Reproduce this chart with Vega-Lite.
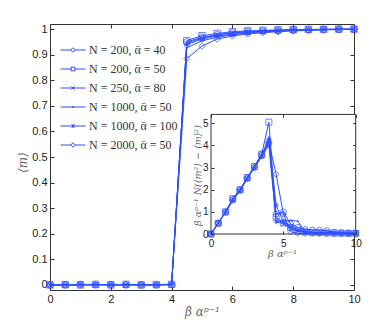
{
 "$schema": "https://vega.github.io/schema/vega-lite/v6.json",
 "width": 304, "height": 266,
 "autosize": {"type": "none"},
 "padding": {"left": 50, "top": 24, "right": 30, "bottom": 37},
 "background": "white",
 "config": {
  "view": {"stroke": "#333333", "strokeWidth": 1},
  "axis": {"labelFont": "Liberation Sans", "labelFontSize": 11, "labelColor": "#222222", "titleFont": "DejaVu Serif", "titleFontWeight": "normal", "titleFontStyle": "italic", "titleColor": "#666666", "domain": false, "tickColor": "#333333", "grid": false, "tickSize": -4, "labelPadding": 7, "labelFlush": false, "zindex": 0}
 },
 "data": {"values": [
  {"s":"N = 200, ᾱ = 40","b":0,"m":0,"c":0},{"s":"N = 200, ᾱ = 40","b":0.5,"m":0,"c":0.5},{"s":"N = 200, ᾱ = 40","b":1,"m":0.002,"c":0.98},{"s":"N = 200, ᾱ = 40","b":1.5,"m":0,"c":1.55},{"s":"N = 200, ᾱ = 40","b":2,"m":0.001,"c":1.98},{"s":"N = 200, ᾱ = 40","b":2.5,"m":0,"c":2.5},{"s":"N = 200, ᾱ = 40","b":3,"m":0,"c":3.0},{"s":"N = 200, ᾱ = 40","b":3.5,"m":0,"c":3.55},{"s":"N = 200, ᾱ = 40","b":4,"m":0.001,"c":4.1},{"s":"N = 200, ᾱ = 40","b":4.5,"m":0.95,"c":0.9},{"s":"N = 200, ᾱ = 40","b":5,"m":0.968,"c":1.0},{"s":"N = 200, ᾱ = 40","b":5.5,"m":0.978,"c":0.45},{"s":"N = 200, ᾱ = 40","b":6,"m":0.986,"c":0.3},{"s":"N = 200, ᾱ = 40","b":6.5,"m":0.99,"c":0.2},{"s":"N = 200, ᾱ = 40","b":7,"m":0.993,"c":0.18},{"s":"N = 200, ᾱ = 40","b":7.5,"m":0.995,"c":0.17},{"s":"N = 200, ᾱ = 40","b":8,"m":0.997,"c":0.15},{"s":"N = 200, ᾱ = 40","b":8.5,"m":0.998,"c":0.08},{"s":"N = 200, ᾱ = 40","b":9,"m":0.999,"c":0.06},{"s":"N = 200, ᾱ = 40","b":9.5,"m":0.999,"c":0.05},{"s":"N = 200, ᾱ = 40","b":10,"m":1,"c":0.04},
  {"s":"N = 200, ᾱ = 50","b":0,"m":0,"c":0},{"s":"N = 200, ᾱ = 50","b":0.5,"m":0.001,"c":0.48},{"s":"N = 200, ᾱ = 50","b":1,"m":0,"c":1.0},{"s":"N = 200, ᾱ = 50","b":1.5,"m":0.002,"c":1.6},{"s":"N = 200, ᾱ = 50","b":2,"m":0,"c":2.0},{"s":"N = 200, ᾱ = 50","b":2.5,"m":0.002,"c":2.55},{"s":"N = 200, ᾱ = 50","b":3,"m":0,"c":3.05},{"s":"N = 200, ᾱ = 50","b":3.5,"m":0.001,"c":3.6},{"s":"N = 200, ᾱ = 50","b":4,"m":0.002,"c":5.05},{"s":"N = 200, ᾱ = 50","b":4.5,"m":0.955,"c":0.75},{"s":"N = 200, ᾱ = 50","b":5,"m":0.974,"c":0.5},{"s":"N = 200, ᾱ = 50","b":5.5,"m":0.983,"c":0.3},{"s":"N = 200, ᾱ = 50","b":6,"m":0.99,"c":0.15},{"s":"N = 200, ᾱ = 50","b":6.5,"m":0.993,"c":0.1},{"s":"N = 200, ᾱ = 50","b":7,"m":0.995,"c":0.07},{"s":"N = 200, ᾱ = 50","b":7.5,"m":0.997,"c":0.06},{"s":"N = 200, ᾱ = 50","b":8,"m":0.998,"c":0.05},{"s":"N = 200, ᾱ = 50","b":8.5,"m":0.999,"c":0.04},{"s":"N = 200, ᾱ = 50","b":9,"m":0.999,"c":0.04},{"s":"N = 200, ᾱ = 50","b":9.5,"m":1,"c":0.03},{"s":"N = 200, ᾱ = 50","b":10,"m":1,"c":0.03},
  {"s":"N = 250, ᾱ = 80","b":0,"m":0,"c":0},{"s":"N = 250, ᾱ = 80","b":0.5,"m":0,"c":0.5},{"s":"N = 250, ᾱ = 80","b":1,"m":0.001,"c":0.97},{"s":"N = 250, ᾱ = 80","b":1.5,"m":0,"c":1.5},{"s":"N = 250, ᾱ = 80","b":2,"m":0.002,"c":1.95},{"s":"N = 250, ᾱ = 80","b":2.5,"m":0,"c":2.5},{"s":"N = 250, ᾱ = 80","b":3,"m":0.001,"c":3.0},{"s":"N = 250, ᾱ = 80","b":3.5,"m":0,"c":3.5},{"s":"N = 250, ᾱ = 80","b":4,"m":0.001,"c":4.0},{"s":"N = 250, ᾱ = 80","b":4.5,"m":0.945,"c":0.6},{"s":"N = 250, ᾱ = 80","b":5,"m":0.965,"c":0.45},{"s":"N = 250, ᾱ = 80","b":5.5,"m":0.976,"c":0.25},{"s":"N = 250, ᾱ = 80","b":6,"m":0.985,"c":0.12},{"s":"N = 250, ᾱ = 80","b":6.5,"m":0.99,"c":0.08},{"s":"N = 250, ᾱ = 80","b":7,"m":0.992,"c":0.06},{"s":"N = 250, ᾱ = 80","b":7.5,"m":0.995,"c":0.05},{"s":"N = 250, ᾱ = 80","b":8,"m":0.997,"c":0.05},{"s":"N = 250, ᾱ = 80","b":8.5,"m":0.998,"c":0.04},{"s":"N = 250, ᾱ = 80","b":9,"m":0.999,"c":0.04},{"s":"N = 250, ᾱ = 80","b":9.5,"m":0.999,"c":0.03},{"s":"N = 250, ᾱ = 80","b":10,"m":1,"c":0.03},
  {"s":"N = 1000, ᾱ = 50","b":0,"m":0,"c":0},{"s":"N = 1000, ᾱ = 50","b":0.5,"m":0.001,"c":0.5},{"s":"N = 1000, ᾱ = 50","b":1,"m":0,"c":1.0},{"s":"N = 1000, ᾱ = 50","b":1.5,"m":0.001,"c":1.55},{"s":"N = 1000, ᾱ = 50","b":2,"m":0,"c":1.97},{"s":"N = 1000, ᾱ = 50","b":2.5,"m":0.001,"c":2.52},{"s":"N = 1000, ᾱ = 50","b":3,"m":0,"c":3.02},{"s":"N = 1000, ᾱ = 50","b":3.5,"m":0.001,"c":3.52},{"s":"N = 1000, ᾱ = 50","b":4,"m":0.003,"c":4.37},{"s":"N = 1000, ᾱ = 50","b":4.5,"m":0.927,"c":0.5},{"s":"N = 1000, ᾱ = 50","b":5,"m":0.954,"c":0.6},{"s":"N = 1000, ᾱ = 50","b":5.5,"m":0.968,"c":0.62},{"s":"N = 1000, ᾱ = 50","b":6,"m":0.978,"c":0.58},{"s":"N = 1000, ᾱ = 50","b":6.5,"m":0.985,"c":0.1},{"s":"N = 1000, ᾱ = 50","b":7,"m":0.989,"c":0.07},{"s":"N = 1000, ᾱ = 50","b":7.5,"m":0.992,"c":0.05},{"s":"N = 1000, ᾱ = 50","b":8,"m":0.995,"c":0.05},{"s":"N = 1000, ᾱ = 50","b":8.5,"m":0.997,"c":0.04},{"s":"N = 1000, ᾱ = 50","b":9,"m":0.998,"c":0.04},{"s":"N = 1000, ᾱ = 50","b":9.5,"m":0.999,"c":0.03},{"s":"N = 1000, ᾱ = 50","b":10,"m":0.999,"c":0.03},
  {"s":"N = 1000, ᾱ = 100","b":0,"m":0,"c":0},{"s":"N = 1000, ᾱ = 100","b":0.5,"m":0,"c":0.5},{"s":"N = 1000, ᾱ = 100","b":1,"m":0.001,"c":0.98},{"s":"N = 1000, ᾱ = 100","b":1.5,"m":0.002,"c":1.52},{"s":"N = 1000, ᾱ = 100","b":2,"m":0,"c":1.95},{"s":"N = 1000, ᾱ = 100","b":2.5,"m":0,"c":2.5},{"s":"N = 1000, ᾱ = 100","b":3,"m":0.001,"c":3.0},{"s":"N = 1000, ᾱ = 100","b":3.5,"m":0,"c":3.5},{"s":"N = 1000, ᾱ = 100","b":4,"m":0.002,"c":4.26},{"s":"N = 1000, ᾱ = 100","b":4.5,"m":0.94,"c":1.3},{"s":"N = 1000, ᾱ = 100","b":5,"m":0.961,"c":0.55},{"s":"N = 1000, ᾱ = 100","b":5.5,"m":0.973,"c":0.35},{"s":"N = 1000, ᾱ = 100","b":6,"m":0.98,"c":0.2},{"s":"N = 1000, ᾱ = 100","b":6.5,"m":0.987,"c":0.1},{"s":"N = 1000, ᾱ = 100","b":7,"m":0.991,"c":0.07},{"s":"N = 1000, ᾱ = 100","b":7.5,"m":0.994,"c":0.05},{"s":"N = 1000, ᾱ = 100","b":8,"m":0.996,"c":0.04},{"s":"N = 1000, ᾱ = 100","b":8.5,"m":0.997,"c":0.04},{"s":"N = 1000, ᾱ = 100","b":9,"m":0.998,"c":0.03},{"s":"N = 1000, ᾱ = 100","b":9.5,"m":0.999,"c":0.03},{"s":"N = 1000, ᾱ = 100","b":10,"m":0.999,"c":0.03},
  {"s":"N = 2000, ᾱ = 50","b":0,"m":0,"c":0},{"s":"N = 2000, ᾱ = 50","b":0.5,"m":0,"c":0.5},{"s":"N = 2000, ᾱ = 50","b":1,"m":0,"c":1.0},{"s":"N = 2000, ᾱ = 50","b":1.5,"m":0.001,"c":1.58},{"s":"N = 2000, ᾱ = 50","b":2,"m":0,"c":2.0},{"s":"N = 2000, ᾱ = 50","b":2.5,"m":0.001,"c":2.55},{"s":"N = 2000, ᾱ = 50","b":3,"m":0,"c":3.05},{"s":"N = 2000, ᾱ = 50","b":3.5,"m":0,"c":3.62},{"s":"N = 2000, ᾱ = 50","b":4,"m":0.001,"c":4.15},{"s":"N = 2000, ᾱ = 50","b":4.5,"m":0.885,"c":2.7},{"s":"N = 2000, ᾱ = 50","b":5,"m":0.934,"c":0.9},{"s":"N = 2000, ᾱ = 50","b":5.5,"m":0.961,"c":0.1},{"s":"N = 2000, ᾱ = 50","b":6,"m":0.973,"c":0.03},{"s":"N = 2000, ᾱ = 50","b":6.5,"m":0.981,"c":0.02},{"s":"N = 2000, ᾱ = 50","b":7,"m":0.986,"c":0.02},{"s":"N = 2000, ᾱ = 50","b":7.5,"m":0.99,"c":0.02},{"s":"N = 2000, ᾱ = 50","b":8,"m":0.993,"c":0.02},{"s":"N = 2000, ᾱ = 50","b":8.5,"m":0.995,"c":0.01},{"s":"N = 2000, ᾱ = 50","b":9,"m":0.997,"c":0.01},{"s":"N = 2000, ᾱ = 50","b":9.5,"m":0.998,"c":0.01},{"s":"N = 2000, ᾱ = 50","b":10,"m":0.999,"c":0.01}
 ]},
 "layer": [
  {
   "layer": [
    {
     "mark": {"type": "line", "color": "#2f4fff", "strokeWidth": 1},
     "encoding": {
      "x": {"field": "b", "type": "quantitative", "scale": {"domain": [0, 10], "nice": false},
            "axis": {"orient": "bottom", "values": [0, 2, 4, 6, 8, 10], "title": "β αᵖ⁻¹", "titleFontSize": 12, "titleBaseline": "middle", "titleY": 21}},
      "y": {"field": "m", "type": "quantitative", "scale": {"domain": [-0.02, 1.02], "nice": false, "zero": false},
            "axis": {"orient": "left", "values": [0, 0.1, 0.2, 0.3, 0.4, 0.5, 0.6, 0.7, 0.8, 0.9, 1], "format": "~g", "title": "⟨m⟩", "titleFontSize": 12, "titleBaseline": "middle", "titleX": -28, "titleY": 138}},
      "detail": {"field": "s"}
     }
    },
    {
     "mark": {"type": "point", "color": "#2f4fff", "filled": false, "size": 42, "strokeWidth": 1},
     "encoding": {
      "x": {"field": "b", "type": "quantitative", "axis": null},
      "y": {"field": "m", "type": "quantitative", "axis": null},
      "shape": {"field": "s", "type": "nominal", "legend": null,
        "scale": {"domain": ["N = 200, ᾱ = 40", "N = 200, ᾱ = 50", "N = 250, ᾱ = 80", "N = 1000, ᾱ = 50", "N = 1000, ᾱ = 100", "N = 2000, ᾱ = 50"],
                  "range": ["circle", "square", "M-0.8,-0.8L0.8,0.8M-0.8,0.8L0.8,-0.8", "M0.25,0A0.25,0.25 0 1,1 -0.25,0A0.25,0.25 0 1,1 0.25,0", "M-1,0L1,0M0,-1L0,1M-0.7,-0.7L0.7,0.7M-0.7,0.7L0.7,-0.7", "diamond"]}}
     }
    },
    {
     "transform": [{"filter": "false"}],
     "mark": {"type": "point", "color": "#2f4fff", "filled": false, "size": 42, "strokeWidth": 1},
     "encoding": {
      "x": {"field": "b", "type": "quantitative", "axis": {"orient": "top", "values": [0, 2, 4, 6, 8, 10], "labels": false, "title": null}},
      "y": {"field": "m", "type": "quantitative", "axis": {"orient": "right", "values": [0, 0.1, 0.2, 0.3, 0.4, 0.5, 0.6, 0.7, 0.8, 0.9, 1], "labels": false, "title": null}},
      "shape": {"field": "s", "type": "nominal",
        "scale": {"domain": ["N = 200, ᾱ = 40", "N = 200, ᾱ = 50", "N = 250, ᾱ = 80", "N = 1000, ᾱ = 50", "N = 1000, ᾱ = 100", "N = 2000, ᾱ = 50"],
                  "range": ["M-1,0L-0.15,0M0.15,0L1,0M0.15,0A0.15,0.15 0 1,1 -0.15,0A0.15,0.15 0 1,1 0.15,0",
                            "M-1,0L-0.15,0M0.15,0L1,0M-0.15,-0.15L0.15,-0.15L0.15,0.15L-0.15,0.15Z",
                            "M-1,0L1,0M-0.13,-0.13L0.13,0.13M-0.13,0.13L0.13,-0.13",
                            "M-1,0L1,0M0.05,0A0.05,0.05 0 1,1 -0.05,0A0.05,0.05 0 1,1 0.05,0",
                            "M-1,0L1,0M0,-0.16L0,0.16M-0.12,-0.12L0.12,0.12M-0.12,0.12L0.12,-0.12",
                            "M-1,0L-0.18,0M0.18,0L1,0M0,-0.18L0.18,0L0,0.18L-0.18,0Z"]},
        "legend": {"title": null, "orient": "none", "legendX": 10, "legendY": 13, "symbolSize": 625, "symbolStrokeWidth": 1, "symbolStrokeColor": "#2f4fff", "symbolFillColor": "transparent", "symbolOpacity": 1, "labelFont": "Liberation Serif", "labelFontStyle": "normal", "labelFontSize": 12, "labelColor": "#333333", "labelOffset": 3, "rowPadding": -8}}
     }
    }
   ],
   "resolve": {"axis": {"x": "independent", "y": "independent"}, "scale": {"shape": "independent"}}
  },
  {
   "layer": [
    {
     "data": {"values": [{}]},
     "mark": {"type": "rect", "fill": "white", "stroke": "#333333", "strokeWidth": 1},
     "encoding": {
      "x": {"datum": 0, "type": "quantitative", "scale": {"domain": [0, 10], "range": [161, 305.7], "nice": false},
            "axis": {"orient": "bottom", "offset": -56, "values": [0, 5, 10], "labelFontSize": 10, "tickSize": -3, "labelPadding": 7, "zindex": 1, "title": "β αᵖ⁻¹", "titleFontSize": 10, "titleBaseline": "middle", "titleX": 232, "titleY": 19}},
      "x2": {"datum": 10},
      "y": {"datum": 0, "type": "quantitative", "scale": {"domain": [0, 5.4], "range": [210, 90.4], "nice": false},
            "axis": {"orient": "left", "offset": -161, "values": [0, 1, 2, 3, 4, 5], "labelFontSize": 10, "tickSize": -3, "labelPadding": 6, "zindex": 1, "title": "β αᵖ⁻¹ N(⟨m²⟩ − ⟨m⟩²)", "titleFontSize": 9.5, "titleBaseline": "middle", "titleX": -14, "titleY": 151}},
      "y2": {"datum": 5.4}
     }
    },
    {
     "mark": {"type": "line", "color": "#2f4fff", "strokeWidth": 1},
     "encoding": {
      "x": {"field": "b", "type": "quantitative", "axis": null},
      "y": {"field": "c", "type": "quantitative", "axis": null},
      "detail": {"field": "s"}
     }
    },
    {
     "mark": {"type": "point", "color": "#2f4fff", "filled": false, "size": 36, "strokeWidth": 1},
     "encoding": {
      "x": {"field": "b", "type": "quantitative", "axis": null},
      "y": {"field": "c", "type": "quantitative", "axis": null},
      "shape": {"field": "s", "type": "nominal", "legend": null,
        "scale": {"domain": ["N = 200, ᾱ = 40", "N = 200, ᾱ = 50", "N = 250, ᾱ = 80", "N = 1000, ᾱ = 50", "N = 1000, ᾱ = 100", "N = 2000, ᾱ = 50"],
                  "range": ["circle", "square", "M-0.8,-0.8L0.8,0.8M-0.8,0.8L0.8,-0.8", "M0.25,0A0.25,0.25 0 1,1 -0.25,0A0.25,0.25 0 1,1 0.25,0", "M-1,0L1,0M0,-1L0,1M-0.7,-0.7L0.7,0.7M-0.7,0.7L0.7,-0.7", "diamond"]}}
     }
    },
    {
     "transform": [{"filter": "false"}],
     "mark": {"type": "point"},
     "encoding": {
      "x": {"field": "b", "type": "quantitative", "axis": {"orient": "top", "offset": -90.4, "values": [0, 5, 10], "labels": false, "tickSize": -3, "zindex": 1, "title": null}},
      "y": {"field": "c", "type": "quantitative", "axis": {"orient": "right", "offset": 1.7, "values": [0, 1, 2, 3, 4, 5], "labels": false, "tickSize": -3, "zindex": 1, "title": null}}
     }
    }
   ],
   "resolve": {"axis": {"x": "independent", "y": "independent"}}
  }
 ],
 "resolve": {"scale": {"x": "independent", "y": "independent", "shape": "independent"}, "axis": {"x": "independent", "y": "independent"}}
}
